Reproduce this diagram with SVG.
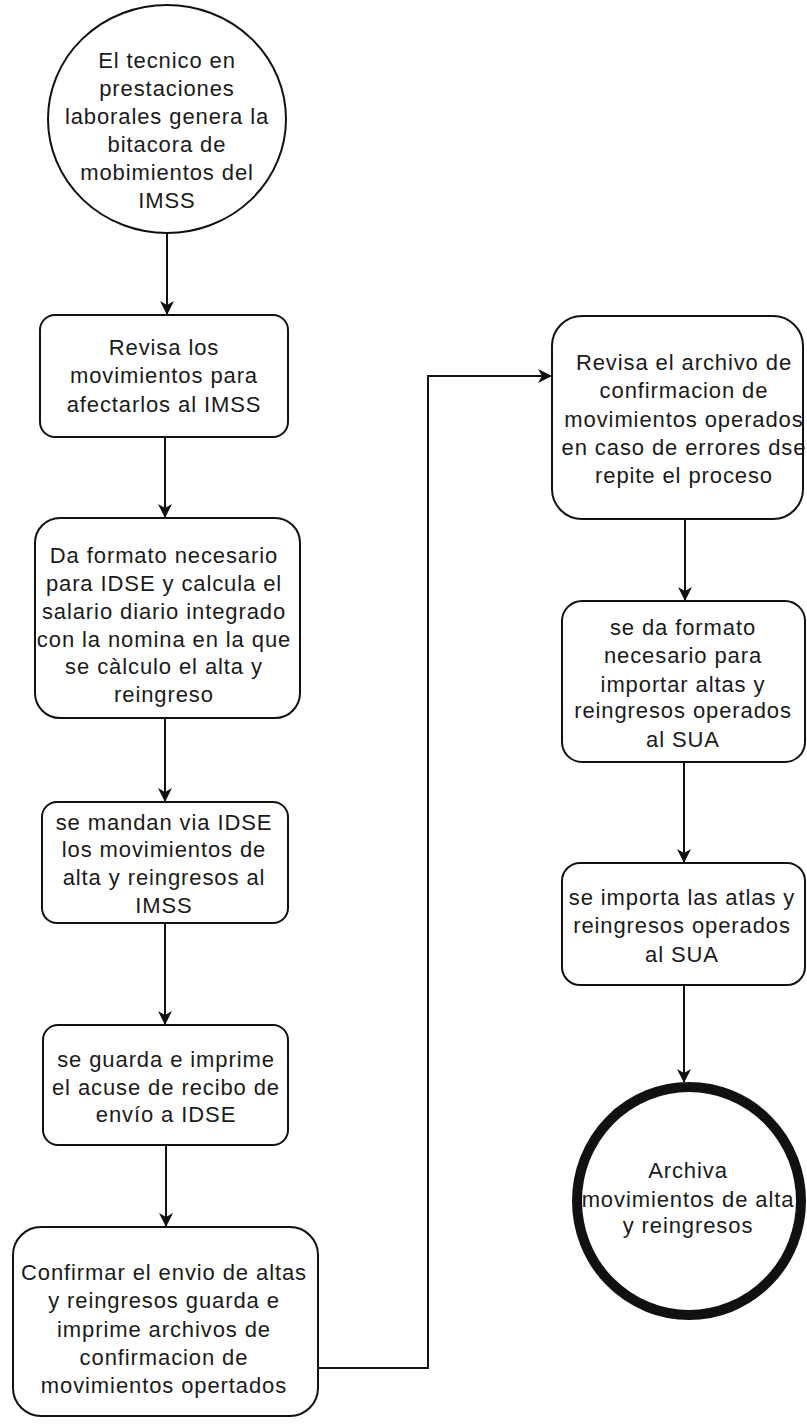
<svg xmlns="http://www.w3.org/2000/svg" width="807" height="1424" viewBox="0 0 807 1424">
<style>
.n{fill:#fff;stroke:#111;stroke-width:2}
.t{font-family:"Liberation Sans",Arial,sans-serif;font-size:22px;letter-spacing:0.9px;fill:#1a1a1a;text-anchor:middle}
.c{fill:none;stroke:#111;stroke-width:2}
</style>
<defs>
<marker id="ah" markerWidth="14" markerHeight="14" refX="13" refY="7" orient="auto" markerUnits="userSpaceOnUse">
<path d="M0,0 L14,7 L0,14 L4,7 Z" fill="#111"/>
</marker>
</defs>
<rect width="807" height="1424" fill="#fff"/>
<g id="connectors">
<path class="c" d="M167,233 V314" marker-end="url(#ah)"/>
<path class="c" d="M165,437 V517" marker-end="url(#ah)"/>
<path class="c" d="M165,718 V801" marker-end="url(#ah)"/>
<path class="c" d="M165,923 V1024" marker-end="url(#ah)"/>
<path class="c" d="M166,1145 V1226" marker-end="url(#ah)"/>
<path class="c" d="M318,1368 H428 V376 H551" marker-end="url(#ah)"/>
<path class="c" d="M685,519 V600" marker-end="url(#ah)"/>
<path class="c" d="M684,762 V862" marker-end="url(#ah)"/>
<path class="c" d="M684,985 V1082" marker-end="url(#ah)"/>
</g>
<g id="start">
<ellipse class="n" cx="167" cy="119" rx="119" ry="114"/>
<text class="t" x="167" y="68">El tecnico en</text>
<text class="t" x="167" y="96">prestaciones</text>
<text class="t" x="167" y="124">laborales genera la</text>
<text class="t" x="167" y="152">bitacora de</text>
<text class="t" x="167" y="180">mobimientos del</text>
<text class="t" x="167" y="208">IMSS</text>
</g>
<g id="revisa">
<rect class="n" x="40" y="315" width="248" height="122" rx="15"/>
<text class="t" x="164" y="355">Revisa los</text>
<text class="t" x="164" y="383">movimientos para</text>
<text class="t" x="164" y="412">afectarlos al IMSS</text>
</g>
<g id="formato">
<rect class="n" x="35" y="518" width="265" height="200" rx="25"/>
<text class="t" x="164" y="563">Da formato necesario</text>
<text class="t" x="164" y="591">para IDSE y calcula el</text>
<text class="t" x="164" y="619">salario diario integrado</text>
<text class="t" x="164" y="647">con la nomina en la que</text>
<text class="t" x="164" y="674">se càlculo el alta y</text>
<text class="t" x="164" y="702">reingreso</text>
</g>
<g id="mandan">
<rect class="n" x="42" y="802" width="246" height="121" rx="15"/>
<text class="t" x="164" y="830">se mandan via IDSE</text>
<text class="t" x="164" y="857">los movimientos de</text>
<text class="t" x="164" y="885">alta y reingresos al</text>
<text class="t" x="164" y="913">IMSS</text>
</g>
<g id="guarda">
<rect class="n" x="43" y="1025" width="245" height="120" rx="15"/>
<text class="t" x="166" y="1067">se guarda e imprime</text>
<text class="t" x="166" y="1095">el acuse de recibo de</text>
<text class="t" x="166" y="1122">envío a IDSE</text>
</g>
<g id="confirmar">
<rect class="n" x="13" y="1227" width="305" height="189" rx="28"/>
<text class="t" x="164" y="1280">Confirmar el envio de altas</text>
<text class="t" x="164" y="1308">y reingresos guarda e</text>
<text class="t" x="164" y="1337">imprime archivos de</text>
<text class="t" x="164" y="1365">confirmacion de</text>
<text class="t" x="164" y="1393">movimientos opertados</text>
</g>
<g id="revisa-archivo">
<rect class="n" x="552" y="316" width="251" height="203" rx="30"/>
<text class="t" x="684" y="370">Revisa el archivo de</text>
<text class="t" x="684" y="398">confirmacion de</text>
<text class="t" x="684" y="427">movimientos operados</text>
<text class="t" x="684" y="455">en caso de errores dse</text>
<text class="t" x="684" y="483">repite el proceso</text>
</g>
<g id="formato-sua">
<rect class="n" x="562" y="601" width="243" height="161" rx="20"/>
<text class="t" x="683" y="635">se da formato</text>
<text class="t" x="683" y="663">necesario para</text>
<text class="t" x="683" y="692">importar altas y</text>
<text class="t" x="683" y="718">reingresos operados</text>
<text class="t" x="683" y="747">al SUA</text>
</g>
<g id="importa">
<rect class="n" x="562" y="863" width="243" height="122" rx="18"/>
<text class="t" x="682" y="905">se importa las atlas y</text>
<text class="t" x="682" y="933">reingresos operados</text>
<text class="t" x="682" y="962">al SUA</text>
</g>
<g id="end">
<ellipse cx="689" cy="1201" rx="112" ry="114" fill="#fff" stroke="#111" stroke-width="10"/>
<text class="t" x="688" y="1178">Archiva</text>
<text class="t" x="688" y="1207">movimientos de alta</text>
<text class="t" x="688" y="1233">y reingresos</text>
</g>
</svg>
